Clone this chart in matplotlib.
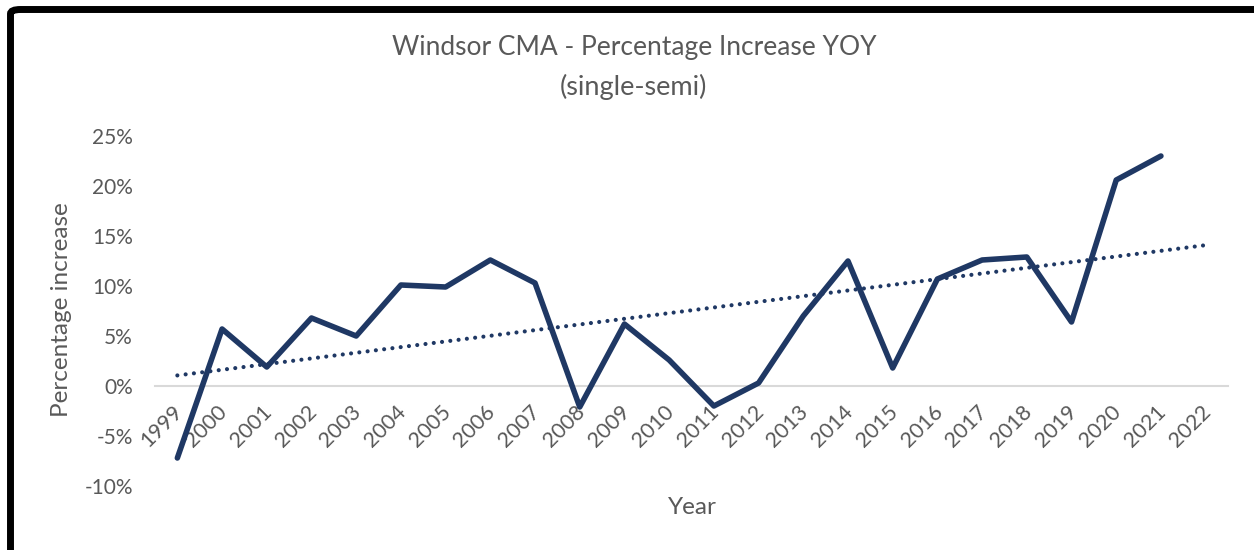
import numpy as np
import matplotlib
matplotlib.use("Agg")
import matplotlib.pyplot as plt
from matplotlib.patches import FancyBboxPatch
from matplotlib.ticker import FuncFormatter, MultipleLocator
import matplotlib.transforms as mtransforms

# ---- data ----
years = [str(y) for y in range(1999, 2023)]
pct_increase = [-7.2, 5.7, 1.9, 6.8, 5.0, 10.1, 9.9, 12.6, 10.3, -2.1, 6.2, 2.6,
                -2.0, 0.3, 7.0, 12.5, 1.8, 10.7, 12.6, 12.9, 6.4, 20.6, 23.0]
title_lines = ["Windsor CMA - Percentage Increase YOY", "(single-semi)"]
y_label = "Percentage increase"
x_label = "Year"

plt.rcParams['font.family'] = ['Lato', 'DejaVu Sans']
W, H = 1254, 550
fig = plt.figure(figsize=(W / 100, H / 100), dpi=100)

def fx(px):
    return px / W

def fy(py):
    return 1 - py / H

ax = fig.add_axes([fx(155), fy(486), fx(1228) - fx(155), fy(136) - fy(486)])

navy = '#1f3864'
grey = '#595959'

x = np.arange(len(years))
xd = x[:len(pct_increase)]
ax.plot(xd, pct_increase, color=navy, lw=4.0, solid_joinstyle='round',
        solid_capstyle='round', zorder=3)

# linear trendline (Excel style), extended over all categories
coef = np.polyfit(xd, pct_increase, 1)
ax.plot(x, np.polyval(coef, x), color=navy, lw=3.0,
        linestyle=(0, (0.001, 2.0)), dash_capstyle='round', zorder=2)

ax.set_xlim(-0.5, len(years) - 0.5)
ax.set_ylim(-10, 25)
ax.yaxis.set_major_locator(MultipleLocator(5))
ax.yaxis.set_major_formatter(FuncFormatter(lambda v, p: f"{v:.0f}%"))

for s in ['top', 'right', 'left']:
    ax.spines[s].set_visible(False)
ax.spines['bottom'].set_position(('data', 0))
ax.spines['bottom'].set_color('#d9d9d9')
ax.spines['bottom'].set_linewidth(1.5)
ax.spines['bottom'].set_zorder(1)

ax.tick_params(axis='y', length=0, pad=16, labelsize=15, labelcolor=grey)
ax.tick_params(axis='x', length=0, pad=11, labelsize=15.5, labelcolor=grey)
ax.set_xticks(x)
ax.set_xticklabels(years, rotation=45, ha='right', va='top')
offset = mtransforms.ScaledTranslation(9 / 100, 0, fig.dpi_scale_trans)
for lab in ax.get_xticklabels():
    lab.set_transform(lab.get_transform() + offset)

fig.text(fx(634), fy(48), title_lines[0], ha='center', va='center',
         fontsize=19, color=grey)
fig.text(fx(633), fy(87), title_lines[1], ha='center', va='center',
         fontsize=19.5, color=grey)
fig.text(fx(62), fy(310), y_label, ha='center', va='center', rotation=90,
         fontsize=17.5, color=grey)
fig.text(fx(692), fy(508), x_label, ha='center', va='center',
         fontsize=17.5, color=grey)

# outer black frame (cut off at right and bottom)
frame = FancyBboxPatch((fx(10.5), fy(600)), fx(1400) - fx(10.5), fy(9.5) - fy(600),
                       boxstyle='round,pad=0,rounding_size=0.008',
                       transform=fig.transFigure, facecolor='none',
                       edgecolor='black', linewidth=5.0, clip_on=False)
fig.patches.append(frame)

fig.savefig('out.png', dpi=100, facecolor='white')
